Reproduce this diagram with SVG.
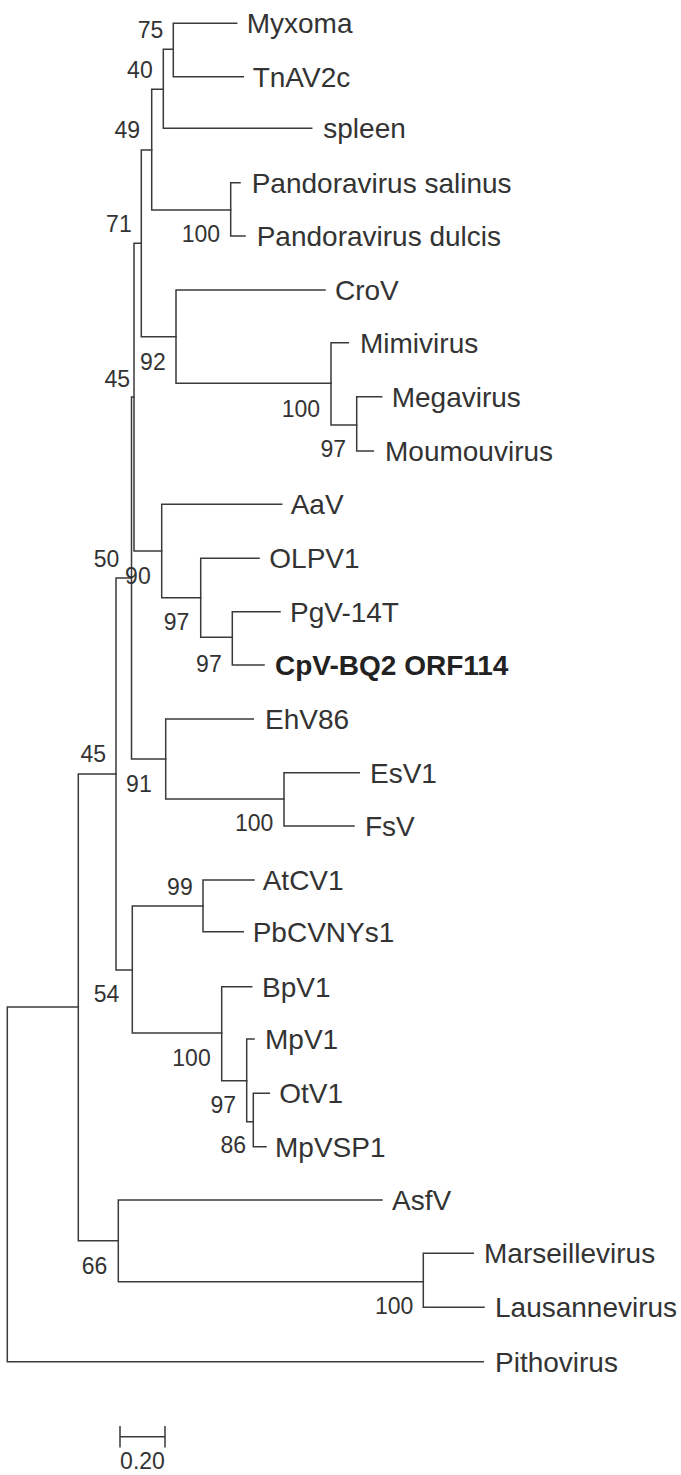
<svg xmlns="http://www.w3.org/2000/svg" width="681" height="1475" viewBox="0 0 681 1475">
<style>
.br{fill:none;stroke:#3a3a3a;stroke-width:1.5;stroke-linecap:square}
.tx{font-family:"Liberation Sans",Arial,sans-serif;font-size:28px;fill:#333}
.bs{font-family:"Liberation Sans",Arial,sans-serif;font-size:23px;fill:#333;text-anchor:end}
.bold{font-weight:bold;fill:#222}
.sc{font-family:"Liberation Sans",Arial,sans-serif;font-size:23px;fill:#333;text-anchor:middle}
</style>
<rect width="681" height="1475" fill="#fff"/>
<g id="connectors" class="br">
<path d="M236.7,23.3 H173.3 V76.7 H243.3"/>
<path d="M173.3,49.3 H163.3 V128.3 H311.7"/>
<path d="M163.3,89.3 H151.7 V210 H230.7"/>
<path d="M240,182.7 H230.7 V236 H245"/>
<path d="M151.7,150 H141.3 V336.7 H176"/>
<path d="M325,290 H176 V383.3 H331"/>
<path d="M348.3,342.7 H331 V425 H356.7"/>
<path d="M381.7,396.7 H356.7 V451 H373.3"/>
<path d="M141.3,243.3 H134 V551 H161.7"/>
<path d="M281.7,504.3 H161.7 V597.7 H200.7"/>
<path d="M259,558.3 H200.7 V637.3 H232.3"/>
<path d="M280,611.7 H232.3 V665 H264"/>
<path d="M134,397 H131.5 V759 H165.7"/>
<path d="M253.3,719 H165.7 V799 H284"/>
<path d="M359.3,772.7 H284 V826 H354"/>
<path d="M131.5,578 H116 V970 H132.3"/>
<path d="M203,906 H132.3 V1033 H221.7"/>
<path d="M254,880 H203 V931.7 H243.3"/>
<path d="M251.7,986.7 H221.7 V1080.7 H246.7"/>
<path d="M254,1039 H246.7 V1121.7 H253.3"/>
<path d="M269.3,1093.3 H253.3 V1146.7 H266"/>
<path d="M116,774 H78.3 V1240.7 H118.3"/>
<path d="M382,1200 H118.3 V1281.7 H423.3"/>
<path d="M473.3,1253.3 H423.3 V1307.3 H484"/>
<path d="M78.3,1007 H7.3 V1361.7 H483.3"/>
</g>
<g id="scalebar">
<path class="br" d="M120,1436.7 H165 M120,1426.7 V1446.7 M165,1426.7 V1446.7"/>
<text class="sc" x="142.5" y="1469">0.20</text>
</g>
<g id="taxa">
<g id="t-myxoma"><text class="tx" x="246.7" y="33.3">Myxoma</text></g>
<g id="t-tnav2c"><text class="tx" x="252.7" y="86.7">TnAV2c</text></g>
<g id="t-spleen"><text class="tx" x="323.3" y="138.3">spleen</text></g>
<g id="t-psal"><text class="tx" x="251.7" y="192.7">Pandoravirus salinus</text></g>
<g id="t-pdul"><text class="tx" x="256.7" y="246">Pandoravirus dulcis</text></g>
<g id="t-crov"><text class="tx" x="335" y="300">CroV</text></g>
<g id="t-mimi"><text class="tx" x="360" y="352.7">Mimivirus</text></g>
<g id="t-mega"><text class="tx" x="391.7" y="406.7">Megavirus</text></g>
<g id="t-mou"><text class="tx" x="385" y="461">Moumouvirus</text></g>
<g id="t-aav"><text class="tx" x="290.7" y="514.3">AaV</text></g>
<g id="t-olpv1"><text class="tx" x="269.3" y="568.3">OLPV1</text></g>
<g id="t-pgv"><text class="tx" x="290" y="621.7">PgV-14T</text></g>
<g id="t-cpv"><text class="tx bold" x="275" y="675">CpV-BQ2 ORF114</text></g>
<g id="t-ehv"><text class="tx" x="265" y="729">EhV86</text></g>
<g id="t-esv"><text class="tx" x="370" y="782.7">EsV1</text></g>
<g id="t-fsv"><text class="tx" x="365" y="836">FsV</text></g>
<g id="t-atcv"><text class="tx" x="262.7" y="890">AtCV1</text></g>
<g id="t-pbcv"><text class="tx" x="252.7" y="941.7">PbCVNYs1</text></g>
<g id="t-bpv"><text class="tx" x="262" y="996.7">BpV1</text></g>
<g id="t-mpv"><text class="tx" x="265" y="1049">MpV1</text></g>
<g id="t-otv"><text class="tx" x="279.3" y="1103.3">OtV1</text></g>
<g id="t-mpvsp"><text class="tx" x="275" y="1156.7">MpVSP1</text></g>
<g id="t-asfv"><text class="tx" x="392" y="1210">AsfV</text></g>
<g id="t-mars"><text class="tx" x="484" y="1263.3">Marseillevirus</text></g>
<g id="t-laus"><text class="tx" x="495" y="1317.3">Lausannevirus</text></g>
<g id="t-pitho"><text class="tx" x="495" y="1371.7">Pithovirus</text></g>
</g>
<g id="bootstrap">
<g id="b1"><text class="bs" x="163.3" y="38.3">75</text></g>
<g id="b2"><text class="bs" x="152.7" y="78.3">40</text></g>
<g id="b3"><text class="bs" x="140" y="138.3">49</text></g>
<g id="b4"><text class="bs" x="131.7" y="231.7">71</text></g>
<g id="b5"><text class="bs" x="220" y="241.7">100</text></g>
<g id="b6"><text class="bs" x="165.7" y="370">92</text></g>
<g id="b7"><text class="bs" x="130" y="386.7">45</text></g>
<g id="b8"><text class="bs" x="320" y="416.7">100</text></g>
<g id="b9"><text class="bs" x="346" y="456.7">97</text></g>
<g id="b10"><text class="bs" x="119.3" y="566.7">50</text></g>
<g id="b11"><text class="bs" x="150.7" y="584">90</text></g>
<g id="b12"><text class="bs" x="189.3" y="630">97</text></g>
<g id="b13"><text class="bs" x="221.7" y="671.7">97</text></g>
<g id="b14"><text class="bs" x="106" y="762">45</text></g>
<g id="b15"><text class="bs" x="151.7" y="791.7">91</text></g>
<g id="b16"><text class="bs" x="273.3" y="830.7">100</text></g>
<g id="b17"><text class="bs" x="192.7" y="895">99</text></g>
<g id="b18"><text class="bs" x="119.3" y="1002">54</text></g>
<g id="b19"><text class="bs" x="210.7" y="1066">100</text></g>
<g id="b20"><text class="bs" x="236" y="1113">97</text></g>
<g id="b21"><text class="bs" x="246" y="1153">86</text></g>
<g id="b22"><text class="bs" x="107.3" y="1274">66</text></g>
<g id="b23"><text class="bs" x="413.3" y="1313.5">100</text></g>
</g>
</svg>
